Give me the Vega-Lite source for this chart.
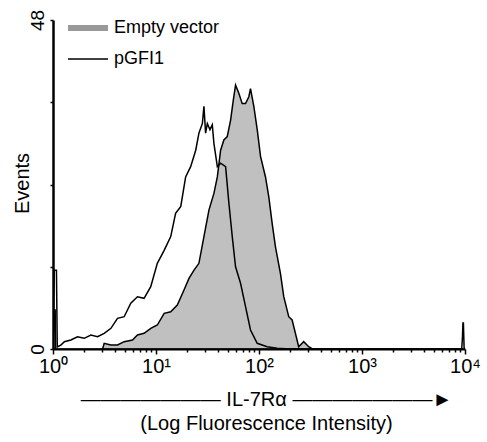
{
  "$schema": "https://vega.github.io/schema/vega-lite/v6.json",
  "autosize": "none",
  "width": 412,
  "height": 329,
  "padding": {"left": 53, "top": 20, "right": 22, "bottom": 93},
  "background": "white",
  "config": {
    "view": {"stroke": null},
    "font": "Liberation Sans"
  },
  "datasets": {
    "hist": [
      {"series": "Empty vector", "intensity": 1.0, "events": 0},
      {"series": "Empty vector", "intensity": 1.03, "events": 5.7},
      {"series": "Empty vector", "intensity": 1.05, "events": 5.7},
      {"series": "Empty vector", "intensity": 1.06, "events": 0},
      {"series": "Empty vector", "intensity": 3.03, "events": 0},
      {"series": "Empty vector", "intensity": 3.14, "events": 0.83},
      {"series": "Empty vector", "intensity": 3.65, "events": 0.58},
      {"series": "Empty vector", "intensity": 4.23, "events": 0.58},
      {"series": "Empty vector", "intensity": 4.91, "events": 1.07},
      {"series": "Empty vector", "intensity": 5.91, "events": 1.31},
      {"series": "Empty vector", "intensity": 6.61, "events": 2.04},
      {"series": "Empty vector", "intensity": 7.66, "events": 2.29},
      {"series": "Empty vector", "intensity": 8.89, "events": 3.02},
      {"series": "Empty vector", "intensity": 10.3, "events": 3.5},
      {"series": "Empty vector", "intensity": 12.0, "events": 5.21},
      {"series": "Empty vector", "intensity": 13.9, "events": 5.44},
      {"series": "Empty vector", "intensity": 16.1, "events": 6.42},
      {"series": "Empty vector", "intensity": 18.7, "events": 8.61},
      {"series": "Empty vector", "intensity": 20.9, "events": 10.3},
      {"series": "Empty vector", "intensity": 23.4, "events": 11.5},
      {"series": "Empty vector", "intensity": 26.1, "events": 12.5},
      {"series": "Empty vector", "intensity": 29.2, "events": 16.4},
      {"series": "Empty vector", "intensity": 32.7, "events": 20.3},
      {"series": "Empty vector", "intensity": 36.5, "events": 22.7},
      {"series": "Empty vector", "intensity": 39.4, "events": 25.1},
      {"series": "Empty vector", "intensity": 42.4, "events": 29.0},
      {"series": "Empty vector", "intensity": 45.6, "events": 30.5},
      {"series": "Empty vector", "intensity": 49.2, "events": 31.0},
      {"series": "Empty vector", "intensity": 53.0, "events": 33.4},
      {"series": "Empty vector", "intensity": 56.3, "events": 36.3},
      {"series": "Empty vector", "intensity": 59.2, "events": 38.5},
      {"series": "Empty vector", "intensity": 63.7, "events": 37.3},
      {"series": "Empty vector", "intensity": 68.7, "events": 35.8},
      {"series": "Empty vector", "intensity": 74.0, "events": 35.8},
      {"series": "Empty vector", "intensity": 79.7, "events": 36.8},
      {"series": "Empty vector", "intensity": 82.7, "events": 38.0},
      {"series": "Empty vector", "intensity": 89.1, "events": 35.4},
      {"series": "Empty vector", "intensity": 96.1, "events": 32.0},
      {"series": "Empty vector", "intensity": 103.5, "events": 28.1},
      {"series": "Empty vector", "intensity": 115.6, "events": 25.1},
      {"series": "Empty vector", "intensity": 124.5, "events": 22.2},
      {"series": "Empty vector", "intensity": 134.3, "events": 18.3},
      {"series": "Empty vector", "intensity": 144.5, "events": 14.9},
      {"series": "Empty vector", "intensity": 161.6, "events": 11.0},
      {"series": "Empty vector", "intensity": 173.9, "events": 7.63},
      {"series": "Empty vector", "intensity": 194.4, "events": 4.71},
      {"series": "Empty vector", "intensity": 209.7, "events": 4.23},
      {"series": "Empty vector", "intensity": 225.6, "events": 2.29},
      {"series": "Empty vector", "intensity": 242.8, "events": 0.34},
      {"series": "Empty vector", "intensity": 271.5, "events": 1.07},
      {"series": "Empty vector", "intensity": 303.6, "events": 0.34},
      {"series": "Empty vector", "intensity": 330, "events": 0},
      {"series": "Empty vector", "intensity": 10000, "events": 0},
      {"series": "pGFI1", "intensity": 1.0, "events": 0.2},
      {"series": "pGFI1", "intensity": 1.03, "events": 11.5},
      {"series": "pGFI1", "intensity": 1.08, "events": 11.5},
      {"series": "pGFI1", "intensity": 1.1, "events": 0.3},
      {"series": "pGFI1", "intensity": 1.2, "events": 0.6},
      {"series": "pGFI1", "intensity": 1.29, "events": 1.07},
      {"series": "pGFI1", "intensity": 1.49, "events": 1.31},
      {"series": "pGFI1", "intensity": 1.73, "events": 1.79},
      {"series": "pGFI1", "intensity": 2.01, "events": 1.56},
      {"series": "pGFI1", "intensity": 2.33, "events": 2.04},
      {"series": "pGFI1", "intensity": 2.71, "events": 1.79},
      {"series": "pGFI1", "intensity": 3.14, "events": 2.29},
      {"series": "pGFI1", "intensity": 3.65, "events": 3.02},
      {"series": "pGFI1", "intensity": 4.23, "events": 4.48},
      {"series": "pGFI1", "intensity": 4.91, "events": 4.71},
      {"series": "pGFI1", "intensity": 5.69, "events": 6.67},
      {"series": "pGFI1", "intensity": 6.61, "events": 7.63},
      {"series": "pGFI1", "intensity": 7.66, "events": 7.4},
      {"series": "pGFI1", "intensity": 8.89, "events": 9.09},
      {"series": "pGFI1", "intensity": 10.3, "events": 12.5},
      {"series": "pGFI1", "intensity": 12.0, "events": 14.4},
      {"series": "pGFI1", "intensity": 13.9, "events": 16.4},
      {"series": "pGFI1", "intensity": 15.5, "events": 19.8},
      {"series": "pGFI1", "intensity": 17.4, "events": 20.8},
      {"series": "pGFI1", "intensity": 19.4, "events": 25.1},
      {"series": "pGFI1", "intensity": 21.7, "events": 26.6},
      {"series": "pGFI1", "intensity": 24.3, "events": 29.0},
      {"series": "pGFI1", "intensity": 26.1, "events": 31.5},
      {"series": "pGFI1", "intensity": 28.2, "events": 32.9},
      {"series": "pGFI1", "intensity": 29.2, "events": 35.4},
      {"series": "pGFI1", "intensity": 30.3, "events": 31.5},
      {"series": "pGFI1", "intensity": 31.5, "events": 32.9},
      {"series": "pGFI1", "intensity": 33.4, "events": 32.0},
      {"series": "pGFI1", "intensity": 35.2, "events": 32.7},
      {"series": "pGFI1", "intensity": 36.5, "events": 30.0},
      {"series": "pGFI1", "intensity": 39.4, "events": 26.6},
      {"series": "pGFI1", "intensity": 42.4, "events": 27.1},
      {"series": "pGFI1", "intensity": 47.4, "events": 26.6},
      {"series": "pGFI1", "intensity": 51.0, "events": 21.3},
      {"series": "pGFI1", "intensity": 55.0, "events": 16.4},
      {"series": "pGFI1", "intensity": 59.2, "events": 12.0},
      {"series": "pGFI1", "intensity": 66.2, "events": 9.59},
      {"series": "pGFI1", "intensity": 74.0, "events": 6.17},
      {"series": "pGFI1", "intensity": 82.7, "events": 2.77},
      {"series": "pGFI1", "intensity": 96.1, "events": 0.83},
      {"series": "pGFI1", "intensity": 120, "events": 0.34},
      {"series": "pGFI1", "intensity": 150, "events": 0.1},
      {"series": "pGFI1", "intensity": 200, "events": 0},
      {"series": "pGFI1", "intensity": 9300, "events": 0},
      {"series": "pGFI1", "intensity": 9450, "events": 1.75},
      {"series": "pGFI1", "intensity": 9550, "events": 3.8},
      {"series": "pGFI1", "intensity": 9650, "events": 3.8},
      {"series": "pGFI1", "intensity": 9800, "events": 0.2},
      {"series": "pGFI1", "intensity": 10000, "events": 0}
    ]
  },
  "data": {"name": "hist"},
  "encoding": {
    "x": {
      "field": "intensity",
      "type": "quantitative",
      "scale": {"type": "log", "domain": [1, 10000], "nice": false},
      "axis": {
        "values": [1, 2, 3, 4, 5, 6, 7, 8, 9, 10, 20, 30, 40, 50, 60, 70, 80, 90, 100, 200, 300, 400, 500, 600, 700, 800, 900, 1000, 2000, 3000, 4000, 5000, 6000, 7000, 8000, 9000, 10000],
        "labelExpr": "datum.value == 1 ? '10⁰' : datum.value == 10 ? '10¹' : datum.value == 100 ? '10²' : datum.value == 1000 ? '10³' : datum.value == 10000 ? '10⁴' : ''",
        "labelOverlap": false,
        "labelFlush": false,
        "labelFont": "Liberation Sans",
        "labelFontSize": 20,
        "labelColor": "black",
        "labelPadding": 2,
        "tickColor": "black",
        "tickWidth": 1.5,
        "tickSize": {"condition": {"test": "datum.value == 1 || datum.value == 10 || datum.value == 100 || datum.value == 1000 || datum.value == 10000", "value": 5}, "value": 3},
        "domainColor": "black",
        "domainWidth": 2,
        "grid": false,
        "zindex": 1,
        "title": ["——————— IL-7Rα ———————►", "(Log Fluorescence Intensity)"],
        "titleFont": "Liberation Sans",
        "titleFontSize": 20,
        "titleFontWeight": "normal",
        "titleColor": "black",
        "titleLineHeight": 24,
        "titleX": 213,
        "titleY": 56,
        "titleBaseline": "alphabetic"
      }
    },
    "y": {
      "field": "events",
      "type": "quantitative",
      "scale": {"domain": [0, 48], "nice": false},
      "axis": {
        "values": [0, 12, 24, 36, 48],
        "labelExpr": "datum.value == 0 || datum.value == 48 ? datum.label : ''",
        "labelAngle": -90,
        "labelAlign": "center",
        "labelBaseline": "alphabetic",
        "labelPadding": 7,
        "labelFont": "Liberation Sans",
        "labelFontSize": 19,
        "labelColor": "black",
        "tickColor": "black",
        "tickWidth": 1.5,
        "tickSize": 3,
        "domainColor": "black",
        "domainWidth": 2.5,
        "grid": false,
        "zindex": 1,
        "title": "Events",
        "titleFont": "Liberation Sans",
        "titleFontSize": 20,
        "titleFontWeight": "normal",
        "titleColor": "black",
        "titleAngle": -90,
        "titleX": -25,
        "titleY": 163,
        "titleAlign": "center",
        "titleBaseline": "alphabetic"
      }
    }
  },
  "layer": [
    {
      "transform": [{"filter": "datum.series === 'Empty vector'"}],
      "mark": {"type": "area", "fill": "#c0c0c0", "stroke": "black", "strokeWidth": 1.5, "clip": true}
    },
    {
      "transform": [{"filter": "datum.series === 'pGFI1'"}],
      "mark": {"type": "line", "clip": true},
      "encoding": {
        "color": {
          "field": "series",
          "type": "nominal",
          "scale": {"domain": ["Empty vector", "pGFI1"], "range": ["#999999", "#000000"]},
          "legend": {
            "orient": "none",
            "legendX": 22,
            "legendY": -5,
            "title": null,
            "padding": 0,
            "symbolType": "M-2,0H2",
            "symbolSize": 400,
            "labelFont": "Liberation Sans",
            "labelFontSize": 18,
            "labelColor": "black",
            "labelOffset": 13,
            "rowPadding": 8
          }
        },
        "strokeWidth": {
          "field": "series",
          "type": "nominal",
          "scale": {"domain": ["Empty vector", "pGFI1"], "range": [6, 1.5]},
          "legend": {
            "orient": "none",
            "legendX": 22,
            "legendY": -5,
            "title": null,
            "padding": 0,
            "symbolType": "M-2,0H2",
            "symbolSize": 400,
            "labelFont": "Liberation Sans",
            "labelFontSize": 18,
            "labelColor": "black",
            "labelOffset": 13,
            "rowPadding": 8
          }
        }
      }
    }
  ]
}
